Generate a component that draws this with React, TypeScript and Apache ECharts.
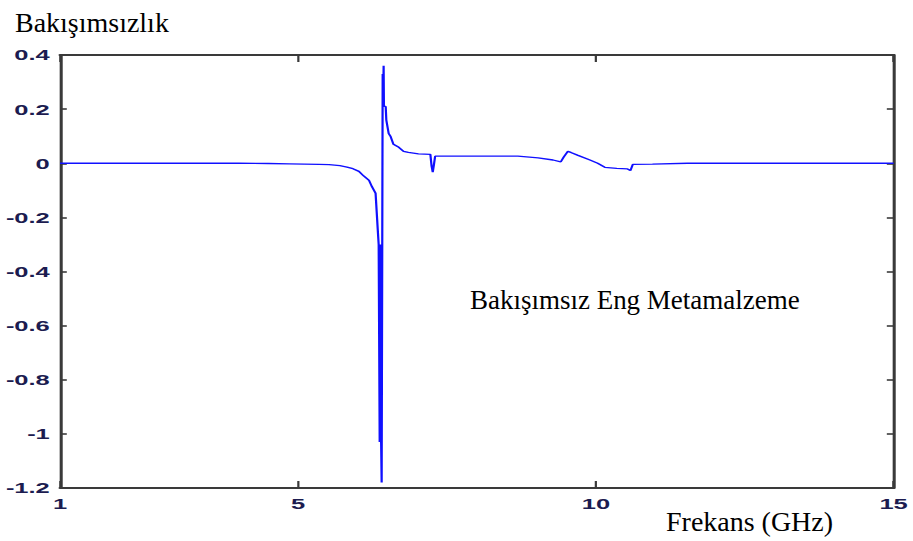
import React, { useEffect, useRef } from "react";
import * as echarts from "echarts";

const freqGHz = [1, 3, 4, 4.5, 4.85, 5.1, 5.35, 5.52, 5.7, 5.82, 5.92, 6.02, 6.1, 6.19, 6.24, 6.3, 6.32, 6.335, 6.352, 6.369, 6.385, 6.393, 6.402, 6.419, 6.427, 6.435, 6.44, 6.47, 6.48, 6.52, 6.55, 6.6, 6.69, 6.77, 6.85, 7.02, 7.22, 7.24, 7.26, 7.28, 7.3, 7.5, 8.0, 8.69, 9.03, 9.28, 9.41, 9.46, 9.53, 9.58, 9.7, 9.9, 10.03, 10.15, 10.35, 10.53, 10.58, 10.62, 10.95, 11.54, 13, 15];
const asymmetry = [0, 0, 0, -0.001, -0.002, -0.003, -0.004, -0.005, -0.009, -0.014, -0.02, -0.03, -0.047, -0.063, -0.087, -0.111, -0.185, -0.24, -0.3, -1.03, -0.3, -1.03, -1.18, 0.33, 0.21, 0.36, 0.21, 0.21, 0.16, 0.11, 0.1, 0.07, 0.059, 0.044, 0.04, 0.035, 0.033, -0.01, -0.033, -0.005, 0.026, 0.026, 0.026, 0.026, 0.02, 0.012, 0.005, 0.023, 0.044, 0.04, 0.029, 0.012, 0, -0.015, -0.019, -0.021, -0.027, -0.004, -0.003, 0, 0, 0];
const xTickValues = [1, 5, 10, 15];
const yAxisTitle = "Bakışımsızlık";
const xAxisTitle = "Frekans (GHz)";
const annotation = "Bakışımsız Eng Metamalzeme";

const SX = 1.7;
const W = 913;
const H = 541;

export default function App() {
  const ref = useRef<HTMLDivElement>(null);
  useEffect(() => {
    if (!ref.current) return;
    const chart = echarts.init(ref.current, null, { renderer: "svg" });
    const lineColor = "#3a3a3a";
    const labelStyle = {
      color: "#1c1c50",
      fontFamily: "Liberation Sans, Arial, sans-serif",
      fontWeight: "bold" as const,
      fontSize: 15,
    };
    const serif = "Liberation Serif, Times New Roman, serif";
    const data = freqGHz.map((f, i) => [f, asymmetry[i]]);
    const mkLine = () => ({ show: true, onZero: false, lineStyle: { color: lineColor, width: 1.8 } });
    const xTick = () => ({ show: true, inside: true, length: 7, customValues: xTickValues, lineStyle: { color: lineColor, width: 1.3 } });
    const yTick = () => ({ show: true, inside: true, length: 4, lineStyle: { color: lineColor, width: 1.6 } });
    chart.setOption({
      animation: false,
      backgroundColor: "#ffffff",
      grid: { left: 60 / SX, right: (W - 897) / SX, top: 55, bottom: H - 488 },
      xAxis: [
        {
          type: "value",
          min: 1,
          max: 15,
          position: "bottom",
          axisLine: mkLine(),
          axisTick: xTick(),
          axisLabel: { show: true, margin: 8, customValues: xTickValues, ...labelStyle },
          splitLine: { show: false },
        },
        {
          type: "value",
          min: 1,
          max: 15,
          position: "top",
          axisLine: mkLine(),
          axisTick: xTick(),
          axisLabel: { show: false, customValues: xTickValues },
          splitLine: { show: false },
        },
      ],
      yAxis: [
        {
          type: "value",
          min: -1.2,
          max: 0.4,
          interval: 0.2,
          position: "left",
          axisLine: mkLine(),
          axisTick: yTick(),
          axisLabel: { show: true, margin: 6, ...labelStyle },
          splitLine: { show: false },
        },
        {
          type: "value",
          min: -1.2,
          max: 0.4,
          interval: 0.2,
          position: "right",
          axisLine: mkLine(),
          axisTick: yTick(),
          axisLabel: { show: false },
          splitLine: { show: false },
        },
      ],
      series: [
        {
          type: "line",
          data,
          xAxisIndex: 0,
          yAxisIndex: 0,
          showSymbol: false,
          symbol: "none",
          z: 1,
          lineStyle: { color: "#1010ff", width: 1.3 },
        },
      ],
      graphic: [
        {
          type: "text",
          x: 15 / SX,
          y: 22,
          scaleX: 1 / SX,
          style: { text: yAxisTitle, fill: "#000", font: `28px ${serif}`, verticalAlign: "middle", align: "left" },
        },
        {
          type: "text",
          x: 666 / SX,
          y: 521,
          scaleX: 1 / SX,
          style: { text: xAxisTitle, fill: "#000", font: `28px ${serif}`, verticalAlign: "middle", align: "left" },
        },
        {
          type: "text",
          x: 470 / SX,
          y: 300,
          scaleX: 1 / SX,
          style: { text: annotation, fill: "#000", font: `27px ${serif}`, verticalAlign: "middle", align: "left" },
        },
      ],
    });
    return () => chart.dispose();
  }, []);
  return (
    <div
      ref={ref}
      style={{
        position: "fixed",
        left: 0,
        top: 0,
        width: W / SX,
        height: H,
        transform: `scaleX(${SX})`,
        transformOrigin: "0 0",
      }}
    />
  );
}
